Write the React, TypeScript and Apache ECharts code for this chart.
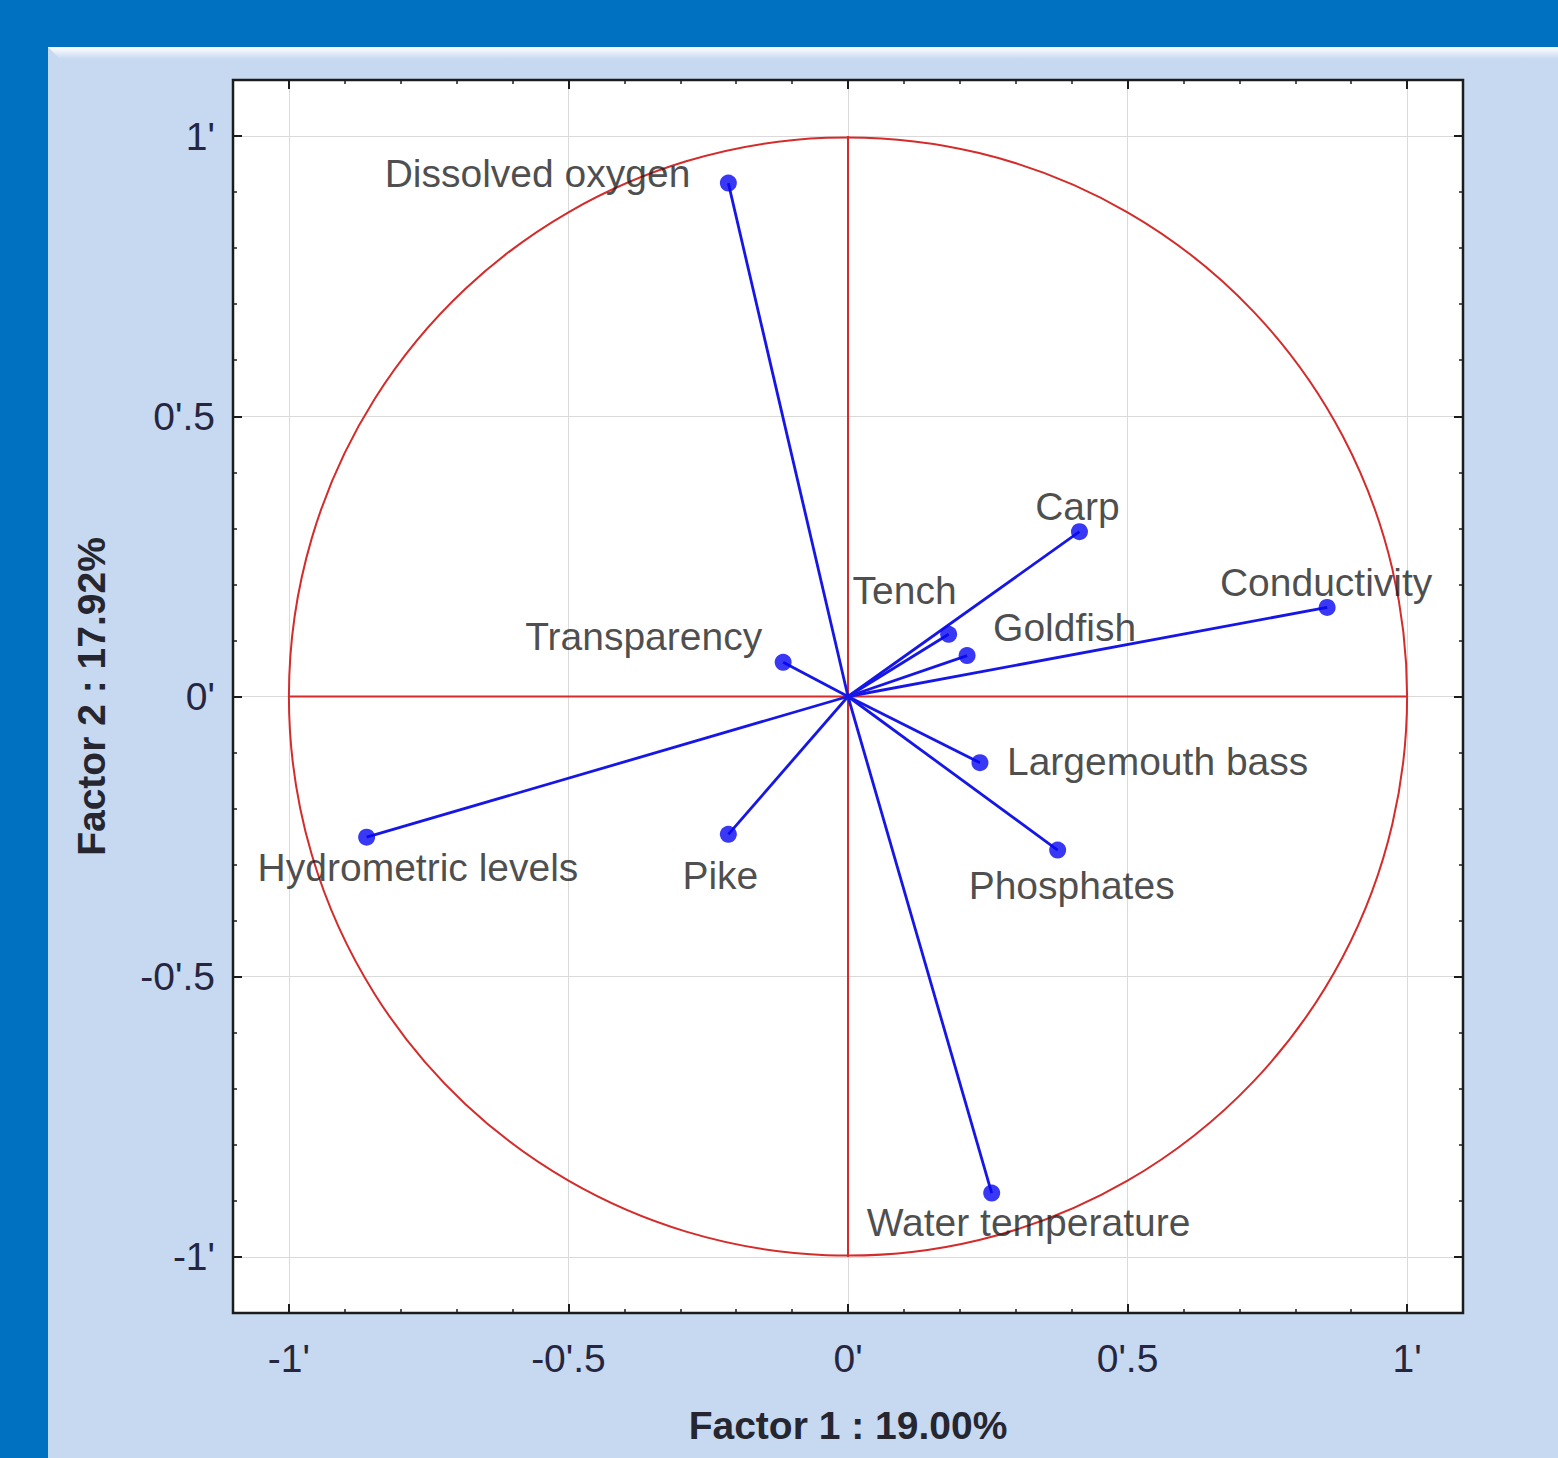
import React, { useEffect, useRef } from "react";
import * as echarts from "echarts";

// Factor loadings of each variable on the first two factors
const variables = [
  "Dissolved oxygen",
  "Carp",
  "Conductivity",
  "Tench",
  "Goldfish",
  "Transparency",
  "Largemouth bass",
  "Phosphates",
  "Pike",
  "Hydrometric levels",
  "Water temperature",
];
const factor1 = [-0.214, 0.414, 0.857, 0.18, 0.213, -0.116, 0.236, 0.375, -0.214, -0.861, 0.257];
const factor2 = [0.916, 0.294, 0.159, 0.111, 0.073, 0.061, -0.118, -0.274, -0.246, -0.251, -0.886];

const tickValues = [-1, -0.5, 0, 0.5, 1];
const tickLabels = ["-1'", "-0'.5", "0'", "0'.5", "1'"];
const xAxisTitle = "Factor 1 : 19.00%";
const yAxisTitle = "Factor 2 : 17.92%";
const unitRadius = 1;

// Where each variable name sits relative to its point (pixels)
const labelPlacement: Record<string, { offset: [number, number]; align: string }> = {
  "Dissolved oxygen": { offset: [-38, -10], align: "right" },
  Carp: { offset: [-2, -25], align: "center" },
  Conductivity: { offset: [-1, -25], align: "center" },
  Tench: { offset: [-44, -44], align: "center" },
  Goldfish: { offset: [26, -28], align: "left" },
  Transparency: { offset: [-21, -26], align: "right" },
  "Largemouth bass": { offset: [27, -1], align: "left" },
  Phosphates: { offset: [14, 35], align: "center" },
  Pike: { offset: [-8, 41], align: "center" },
  "Hydrometric levels": { offset: [-109, 30], align: "left" },
  "Water temperature": { offset: [-125, 29], align: "left" },
};

const FONT = "'Liberation Sans', Arial, sans-serif";
const FRAME = "#1c1c1c";
const RED = "#d42b2b";
const BLUE = "#1616e6";
const AXIS_MIN = -1.1;
const AXIS_MAX = 1.1;

const tickText = (v: number) => {
  const i = tickValues.findIndex((t) => Math.abs(t - v) < 1e-9);
  return i >= 0 ? tickLabels[i] : "";
};

function majorAxis(position: string, withLabels: boolean, vertical: boolean) {
  return {
    type: "value",
    min: AXIS_MIN,
    max: AXIS_MAX,
    position,
    axisLine: { show: false, onZero: false },
    axisTick: {
      show: true,
      inside: true,
      length: 9,
      customValues: tickValues,
      lineStyle: { color: FRAME, width: 2 },
    },
    axisLabel: {
      show: withLabels,
      customValues: tickValues,
      formatter: (v: number) => tickText(v),
      fontFamily: FONT,
      fontSize: 39,
      color: "#262640",
      margin: vertical ? 18 : 26,
    },
    splitLine: { show: withLabels, lineStyle: { color: "#dadada", width: 1 } },
  };
}

function minorAxis(position: string) {
  return {
    type: "value",
    min: AXIS_MIN,
    max: AXIS_MAX,
    interval: 0.1,
    position,
    axisLine: { show: false, onZero: false },
    axisTick: { show: true, inside: true, length: 4, lineStyle: { color: FRAME, width: 1.5 } },
    axisLabel: { show: false },
    splitLine: { show: false },
  };
}

export default function App() {
  const ref = useRef<HTMLDivElement>(null);

  useEffect(() => {
    if (!ref.current) return;
    const chart = echarts.init(ref.current, undefined, { renderer: "svg" });

    const titleStyle = { fontFamily: FONT, fontSize: 39, fontWeight: "bold", color: "#262630" };

    const xMain: any = majorAxis("bottom", true, false);
    xMain.name = xAxisTitle;
    xMain.nameLocation = "middle";
    xMain.nameGap = 93;
    xMain.nameTextStyle = titleStyle;

    const yMain: any = majorAxis("left", true, true);
    yMain.name = yAxisTitle;
    yMain.nameLocation = "middle";
    yMain.nameGap = 122;
    yMain.nameTextStyle = titleStyle;

    const option: any = {
      animation: false,
      backgroundColor: "#0070c0",
      graphic: {
        elements: [
          {
            type: "rect",
            z: -10,
            shape: { x: 48, y: 47, width: 1510, height: 1411 },
            style: { fill: "#c6d9f0" },
          },
          {
            type: "polygon",
            z: -9,
            shape: { points: [[48, 47], [1558, 47], [1558, 59], [60, 59]] },
            style: {
              fill: new echarts.graphic.LinearGradient(0, 0, 0, 1, [
                { offset: 0, color: "#ffffff" },
                { offset: 1, color: "#c6d9f0" },
              ]),
            },
          },
        ],
      },
      grid: {
        left: 233,
        top: 80,
        right: 95,
        bottom: 145,
        show: true,
        backgroundColor: "#ffffff",
        borderColor: FRAME,
        borderWidth: 2.5,
      },
      xAxis: [xMain, minorAxis("bottom"), majorAxis("top", false, false), minorAxis("top")],
      yAxis: [yMain, minorAxis("left"), majorAxis("right", false, true), minorAxis("right")],
      series: [
        {
          // unit correlation circle and the red cross through the origin
          type: "custom",
          coordinateSystem: "cartesian2d",
          xAxisIndex: 0,
          yAxisIndex: 0,
          silent: true,
          z: 1,
          data: [[0, 0]],
          renderItem: (_params: any, api: any) => {
            const c = api.coord([0, 0]);
            const right = api.coord([unitRadius, 0]);
            const left = api.coord([-unitRadius, 0]);
            const top = api.coord([0, unitRadius]);
            const bottom = api.coord([0, -unitRadius]);
            const r = right[0] - c[0];
            const stroke = { stroke: RED, lineWidth: 2, fill: "none" };
            return {
              type: "group",
              children: [
                { type: "circle", shape: { cx: c[0], cy: c[1], r }, style: stroke },
                { type: "line", shape: { x1: left[0], y1: left[1], x2: right[0], y2: right[1] }, style: stroke },
                { type: "line", shape: { x1: top[0], y1: top[1], x2: bottom[0], y2: bottom[1] }, style: stroke },
              ],
            };
          },
        },
        {
          type: "lines",
          coordinateSystem: "cartesian2d",
          xAxisIndex: 0,
          yAxisIndex: 0,
          silent: true,
          z: 3,
          lineStyle: { color: BLUE, width: 2.8, opacity: 1 },
          data: variables.map((_n, i) => ({ coords: [[0, 0], [factor1[i], factor2[i]]] })),
        },
        {
          type: "scatter",
          xAxisIndex: 0,
          yAxisIndex: 0,
          z: 4,
          symbol: "circle",
          symbolSize: 17,
          itemStyle: { color: "#0808f2" },
          label: {
            show: true,
            formatter: "{b}",
            position: "inside",
            verticalAlign: "middle",
            fontFamily: FONT,
            fontSize: 39,
            color: "#1e1e1e",
          },
          data: variables.map((n, i) => ({
            name: n,
            value: [factor1[i], factor2[i]],
            label: { offset: labelPlacement[n].offset, align: labelPlacement[n].align },
          })),
        },
      ],
    };

    chart.setOption(option);
    return () => chart.dispose();
  }, []);

  return (
    <div
      ref={ref}
      style={{ position: "absolute", left: 0, top: 0, width: 1558, height: 1458 }}
    />
  );
}
